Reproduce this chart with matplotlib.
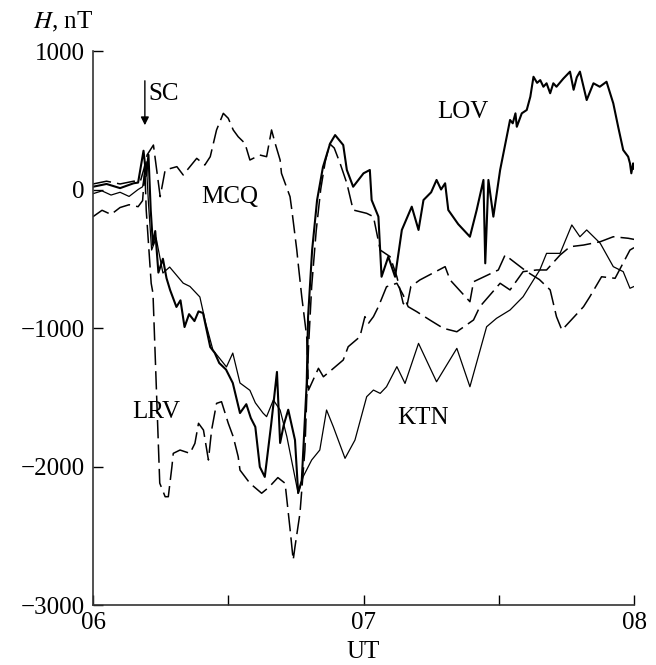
import matplotlib
matplotlib.use("Agg")
import matplotlib.pyplot as plt
import numpy as np

plt.rcParams['font.family'] = ['Liberation Serif', 'DejaVu Serif']
plt.rcParams['mathtext.fontset'] = 'stix'

# minutes after 06 UT, H in nT
lov_t = [0, 3, 6, 9, 10, 11.2, 11.8, 12.3, 12.8, 13.3, 13.8, 14.5, 15.5, 16.3, 17.1,
         18.5, 19.4, 20.3, 21.3, 22.5, 23.4, 24.4, 26, 27, 28, 29.5, 31, 32.6, 34,
         35, 36, 37, 38.1, 39.5, 40.8, 41.5, 42.3, 43.3, 44.8, 45.5, 46.3, 47.4,
         47.7, 48.6, 49.7, 51, 52.6, 53.7, 55.5, 56.3, 57.7, 60, 61.4, 61.8, 63.3,
         64, 65.5, 67, 68.5, 70.7, 72.2, 73.3, 75, 76.2, 77.2, 78.1, 78.8, 81,
         83.6, 85.1, 86.6, 87, 87.7, 88.8, 90.3, 92.5, 93.1, 93.7, 94, 95.1, 96.2,
         97, 97.7, 98.5, 99.2, 99.9, 100.6, 101.4, 102.1, 102.8, 104.3, 105.8,
         106.6, 107.3, 108, 108.8, 109.5, 111, 112.4, 113.9, 115.4, 116.5, 117.6,
         118.7, 119.1, 119.4, 119.8, 120]
lov_h = [20, 40, 10, 45, 50, 280, 100, 250, -150, -400, -300, -600, -500, -640, -726,
         -848, -800, -993, -900, -950, -880, -892, -1137, -1180, -1253, -1300,
         -1397, -1614, -1550, -1650, -1714, -2003, -2075, -1700, -1317, -1830, -1700,
         -1590, -1809, -2191, -2100, -1397, -920, -437, -76, 162, 333, 393, 321,
         141, 20, 117, 141, -76, -196, -630, -485, -630, -292, -124, -292, -76, -20,
         69, 0, 45, -148, -250, -341, -148, 69, -533, 69, -196, 141, 502, 478, 550,
         453, 550, 574, 670, 814, 770, 790, 742, 767, 695, 767, 742, 800, 851, 720,
         810, 851, 742, 646, 767, 742, 778, 622, 450, 285, 237, 189, 117, 189, 150]

mcq_t = [0, 3, 6, 9, 10.5, 11.3, 12, 13.4, 14.9, 16, 18.6, 20, 23, 24.8, 26, 27.4,
         28.9, 30, 31.1, 32.2, 33.7, 34.8, 37, 38.5, 39.6, 40.4, 41.5, 41.8, 43.7,
         44.1, 45.2, 45.5, 46.3, 47.4, 47.8, 50, 51.1, 52.9, 55.5, 56.6, 59.2, 60.3,
         61.1, 62.2, 63.3, 65.1, 67.4, 68.8, 69.9, 71.8, 74.7, 77.7, 80.7, 84.4,
         85.8, 90.3, 92.5, 95.4, 98.4, 100.6, 103.6, 105.8, 108.8, 112.5, 115.4,
         118.7, 120]
mcq_h = [40, 60, 40, 60, 60, 150, 250, 321, -52, 141, 165, 105, 225, 177, 237, 430,
         550, 514, 430, 381, 333, 213, 249, 237, 430, 333, 213, 117, -52, -148, -437,
         -533, -774, -1063, -1448, -1291, -1352, -1303, -1231, -1135, -1063, -918,
         -966, -918, -846, -702, -677, -762, -846, -882, -942, -1002, -1027, -942,
         -846, -677, -725, -593, -581, -581, -473, -413, -401, -377, -341, -352, -360]

lrv_t = [0, 2, 4, 6, 8, 10, 11, 11.5, 11.8, 12.9, 13.3, 14.8, 16, 16.7, 17.5, 17.8,
         19.3, 21.5, 22.6, 23.4, 24.5, 25.6, 26.3, 27.4, 28.5, 30, 31.1, 32.2, 32.6,
         34.8, 37.4, 39, 41, 42.6, 43.7, 44.4, 44.8, 45.9, 47, 47.8, 48.5, 49.5,
         50.5, 51.5, 52.5, 53.5, 54.8, 56.3, 57.7, 60.7, 62.2, 63.7, 65.9, 67.4,
         68.8, 69.6, 70.5, 72.5, 78.1, 79.2, 83.6, 84.4, 89.9, 91.4, 96.2, 99,
         101.4, 102.8, 104, 108.8, 110.2, 112.8, 115.8, 119.1, 120]
lrv_h = [-196, -150, -180, -130, -110, -124, -80, 150, -148, -677, -750, -2120, -2218,
         -2218, -2001, -1905, -1881, -1905, -1833, -1688, -1737, -1953, -1737, -1544,
         -1532, -1688, -1785, -1929, -2026, -2121, -2193, -2150, -2080, -2121, -2450,
         -2675, -2579, -2338, -1881, -1135, -700, -300, 0, 200, 330, 300, 189, 45,
         -148, -172, -196, -437, -485, -630, -822, -846, -700, -653, -557, -653, -810,
         -666, -581, -473, -593, -650, -725, -918, -1015, -846, -774, -630, -641,
         -437, -420]

ktn_t = [0, 2, 4, 6, 8, 10, 11, 11.8, 12.3, 13, 14, 15.5, 17, 20, 21.5, 23.7, 25,
         26.6, 29.6, 31, 32.6, 34.8, 36, 37.7, 38.5, 40, 41.5, 43, 45.5, 46.6, 48.5,
         50.3, 51.8, 53.3, 55.9, 58.1, 60.7, 62.2, 63.7, 65.1, 67.4, 69.2, 72.2,
         76.2, 80.7, 83.6, 87.3, 89.5, 92.5, 95.4, 97.7, 99.1, 100.6, 103.6, 106.2,
         108, 109.5, 112.5, 115.4, 117.6, 119.1, 120]
ktn_h = [-30, -10, -40, -20, -50, 0, 20, 200, -100, -437, -350, -603, -560, -676,
         -700, -776, -966, -1159, -1281, -1181, -1397, -1450, -1540, -1614, -1640,
         -1520, -1592, -1785, -2193, -2074, -1953, -1881, -1592, -1713, -1941,
         -1809, -1496, -1448, -1472, -1424, -1279, -1400, -1111, -1388, -1147,
         -1424, -991, -930, -870, -774, -653, -581, -461, -461, -256, -341, -292,
         -388, -557, -593, -713, -700]


def ut(minutes):
    return 6 + np.asarray(minutes) / 60.0


fig = plt.figure(figsize=(6.56, 6.65), dpi=100)
ax = fig.add_axes([0.1418, 0.0902, 0.8247, 0.8331])

dash = (0, (12, 4))
ax.plot(ut(ktn_t), ktn_h, color='black', lw=0.9)
ax.plot(ut(mcq_t), mcq_h, color='black', lw=1.1, linestyle=dash)
ax.plot(ut(lrv_t), lrv_h, color='black', lw=1.1, linestyle=dash)
ax.plot(ut(lov_t), lov_h, color='black', lw=1.5)

ax.set_xlim(6, 8)
ax.set_ylim(-3000, 1000)
ax.set_xticks([6, 6.5, 7, 7.5, 8])
ax.set_xticklabels(['06', '', '07', '', '08'])
ax.set_yticks([-3000, -2000, -1000, 0, 1000])
ax.tick_params(direction='in', length=7, width=1, labelsize=18, pad=6)
ax.tick_params(axis='x', pad=5)
for side in ('top', 'right'):
    ax.spines[side].set_visible(False)
for side in ('left', 'bottom'):
    ax.spines[side].set_linewidth(1.2)
    ax.spines[side].set_color('#333333')

# station names and storm sudden commencement
ax.text(ut(30.4), -54, 'MCQ', fontsize=18, ha='center', va='center')
ax.text(ut(82.1), 560, 'LOV', fontsize=18, ha='center', va='center')
ax.text(ut(14.0), -1607, 'LRV', fontsize=18, ha='center', va='center')
ax.text(ut(73.2), -1650, 'KTN', fontsize=18, ha='center', va='center')
ax.text(ut(15.6), 690, 'SC', fontsize=18, ha='center', va='center')
ax.annotate('', xy=(ut(11.5), 444), xytext=(ut(11.5), 805),
            arrowprops=dict(arrowstyle='-|>', color='black', lw=1,
                            mutation_scale=12))

fig.text(33 / 656, 1 - 22 / 665, r'$H$, nT', fontsize=18, ha='left', va='center')
fig.text(363 / 656, 1 - 652 / 665, 'UT', fontsize=18, ha='center', va='center')

fig.savefig('out.png', dpi=100)
